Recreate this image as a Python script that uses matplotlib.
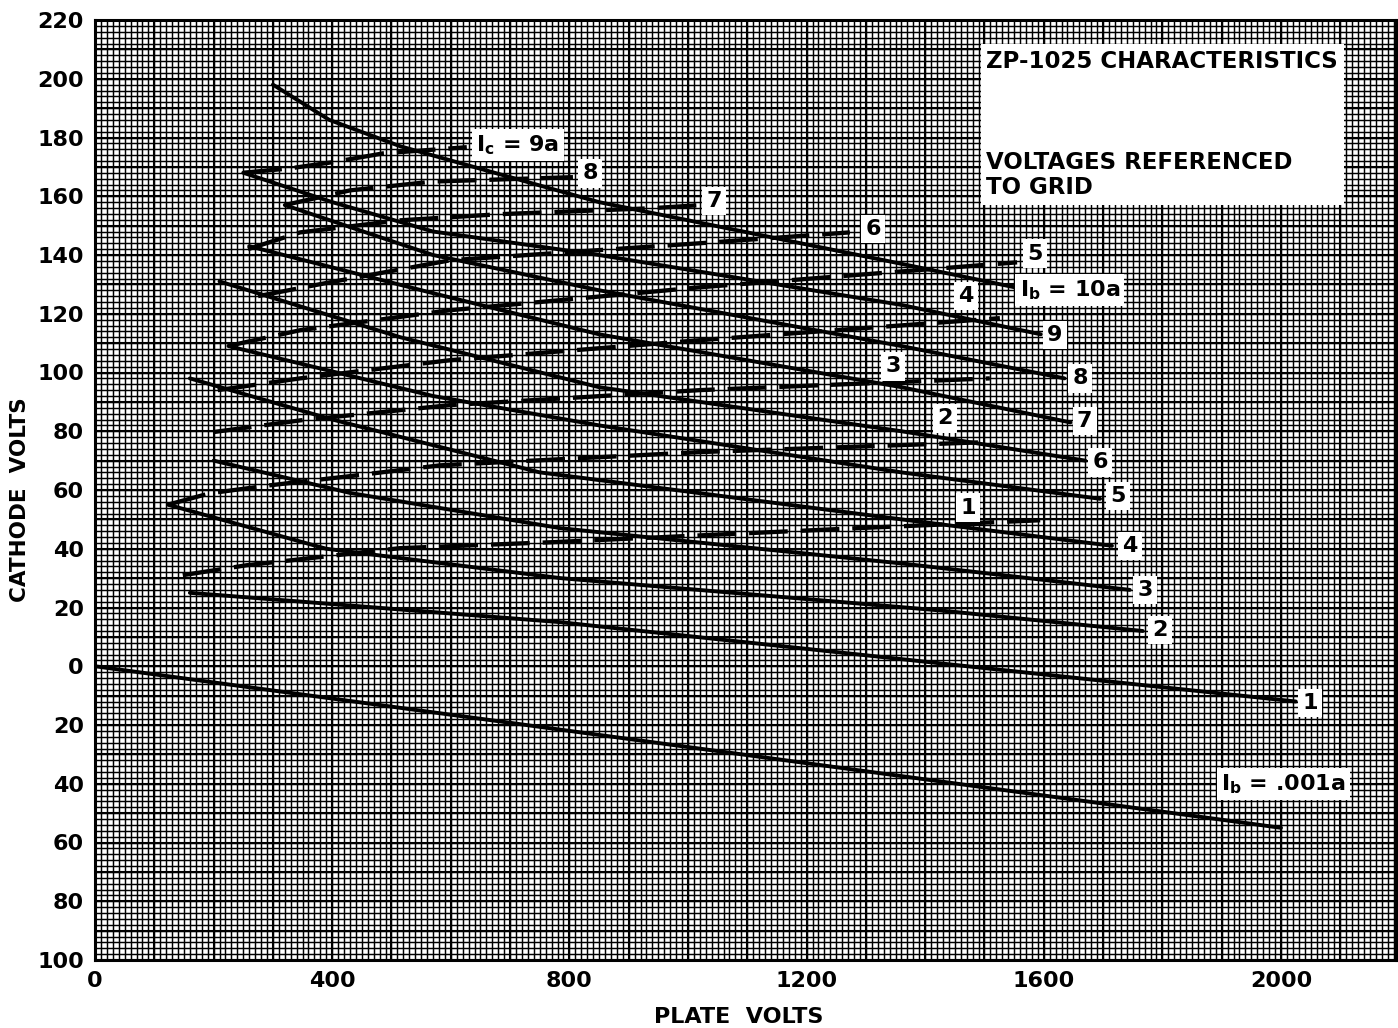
import matplotlib
matplotlib.use("Agg")
import matplotlib.pyplot as plt
import numpy as np

plt.rcParams['font.family'] = ['DejaVu Sans']
plt.rcParams['font.weight'] = 'bold'
plt.rcParams['mathtext.default'] = 'bf'

# plate current curves (solid), x = plate volts, y = cathode volts ref. to grid
ib_x = {
    '10': [300, 395, 515, 850, 1360, 1575],
    '9': [250, 400, 570, 850, 1360, 1595],
    '8': [320, 570, 850, 1360, 1635],
    '7': [260, 570, 850, 1360, 1645],
    '6': [210, 515, 850, 1360, 1670],
    '5': [225, 570, 850, 1360, 1695],
    '4': [160, 400, 750, 1360, 1715],
    '3': [200, 430, 785, 1360, 1745],
    '2': [123, 390, 785, 1425, 1767],
    '1': [160, 785, 1425, 2025],
    '.001': [0, 400, 800, 1200, 1600, 2000],
}
ib_y = {
    '10': [198, 186, 177, 158, 137, 128],
    '9': [168, 158, 148, 140, 123, 113],
    '8': [157, 140, 128, 109, 98],
    '7': [143, 127, 113, 95, 83],
    '6': [131, 112, 95, 80, 70],
    '5': [109, 92, 82, 66, 57],
    '4': [98, 84, 66, 50, 41],
    '3': [70, 59, 47, 35, 26],
    '2': [55, 40, 30, 19, 12],
    '1': [25, 15, 1, -12],
    '.001': [0, -11, -22, -33, -44, -55],
}

# grid current curves (dashed)
ic_x = {
    '9': [250, 329, 401, 486, 627],
    '8': [320, 430, 570, 806],
    '7': [258, 346, 514, 683, 936, 1015],
    '6': [275, 396, 599, 1020, 1273],
    '5': [224, 346, 599, 1020, 1555],
    '4': [207, 346, 599, 1020, 1526],
    '3': [199, 346, 599, 1020, 1509],
    '2': [123, 194, 295, 442, 582, 1020, 1504],
    '1': [148, 256, 514, 767, 1285, 1594],
}
ic_y = {
    '9': [168, 169.5, 171.6, 174.6, 176.7],
    '8': [157, 162, 165, 166.5],
    '7': [142, 147.7, 151.8, 153.9, 155.9, 156.9],
    '6': [126, 130.7, 138.2, 144, 147.7],
    '5': [109, 114.4, 121.2, 129, 137.5],
    '4': [94, 98, 104.2, 111, 118.5],
    '3': [79.7, 83.7, 88.9, 94, 98],
    '2': [55, 58.9, 61.6, 65, 68.4, 72.9, 76.3],
    '1': [31, 34.4, 40.2, 42.2, 47, 49.7],
}

# curve labels: text, x, y
ib_labels = [('I$_b$ = 10a', 1644, 128), ('9', 1619, 112.7), ('8', 1661, 98),
             ('7', 1669, 83.4), ('6', 1695, 69.4), ('5', 1725, 57.9),
             ('4', 1745, 40.9), ('3', 1771, 26), ('2', 1796, 12.3),
             ('1', 2049, -12.6), ('I$_b$ = .001a', 2004, -40)]
ic_labels = [('I$_c$ = 9a', 713, 177.4), ('8', 835, 167.8), ('7', 1044, 158.3),
             ('6', 1312, 148.8), ('5', 1585, 140.5), ('4', 1469, 126),
             ('3', 1346, 102.1), ('2', 1433, 84.4), ('1', 1472, 54)]

x_ticks = [0, 400, 800, 1200, 1600, 2000]
y_ticks = list(range(-100, 221, 20))

fig = plt.figure(figsize=(13.98, 10.28), dpi=100)
ax = fig.add_axes([95 / 1398, 68 / 1028, 1301 / 1398, 940 / 1028])
ax.set_xlim(0, 2194)
ax.set_ylim(-100, 220)

# graph paper
ax.vlines(np.arange(0, 2200, 10), -100, 220, color='k', lw=1.05, zorder=1)
ax.hlines(np.arange(-100, 221, 2), 0, 2194, color='k', lw=1.05, zorder=1)
ax.vlines(np.arange(0, 2200, 100), -100, 220, color='k', lw=1.5, zorder=1)
ax.hlines(np.arange(-100, 221, 10), 0, 2194, color='k', lw=1.5, zorder=1)

for k in ib_x:
    ax.plot(ib_x[k], ib_y[k], color='k', lw=2.8, solid_capstyle='round', zorder=3)
for k in ic_x:
    ax.plot(ic_x[k], ic_y[k], color='k', lw=3.1, dashes=(9, 3), zorder=3)

box = dict(facecolor='white', edgecolor='none', pad=3)
for t, x, y in ib_labels + ic_labels:
    ax.text(x, y, t, fontsize=16, fontweight='bold', ha='center', va='center',
            bbox=box, zorder=5)

# title box
ax.add_patch(plt.Rectangle((1494, 157), 612, 55, facecolor='white',
                           edgecolor='none', zorder=4))
ax.text(1503, 205.9, 'ZP-1025 CHARACTERISTICS', fontsize=16.5,
        fontweight='bold', ha='left', va='center', zorder=5)
ax.text(1503, 171.6, 'VOLTAGES REFERENCED', fontsize=16.5,
        fontweight='bold', ha='left', va='center', zorder=5)
ax.text(1503, 163.1, 'TO GRID', fontsize=16.5,
        fontweight='bold', ha='left', va='center', zorder=5)

ax.set_xticks(x_ticks)
ax.set_xticklabels([str(v) for v in x_ticks])
ax.set_yticks(y_ticks)
ax.set_yticklabels([str(abs(v)) for v in y_ticks])
ax.tick_params(length=0, labelsize=16, pad=8)
for lab in ax.get_xticklabels() + ax.get_yticklabels():
    lab.set_fontweight('bold')
for s in ax.spines.values():
    s.set_linewidth(2.2)
    s.set_zorder(6)

fig.text(739 / 1398, 1 - 1017 / 1028, 'PLATE  VOLTS', fontsize=16,
         fontweight='bold', ha='center', va='center')
fig.text(20 / 1398, 1 - 500 / 1028, 'CATHODE  VOLTS', fontsize=15.5,
         fontweight='bold', ha='center', va='center', rotation=90)

fig.savefig('out.png', dpi=100)
